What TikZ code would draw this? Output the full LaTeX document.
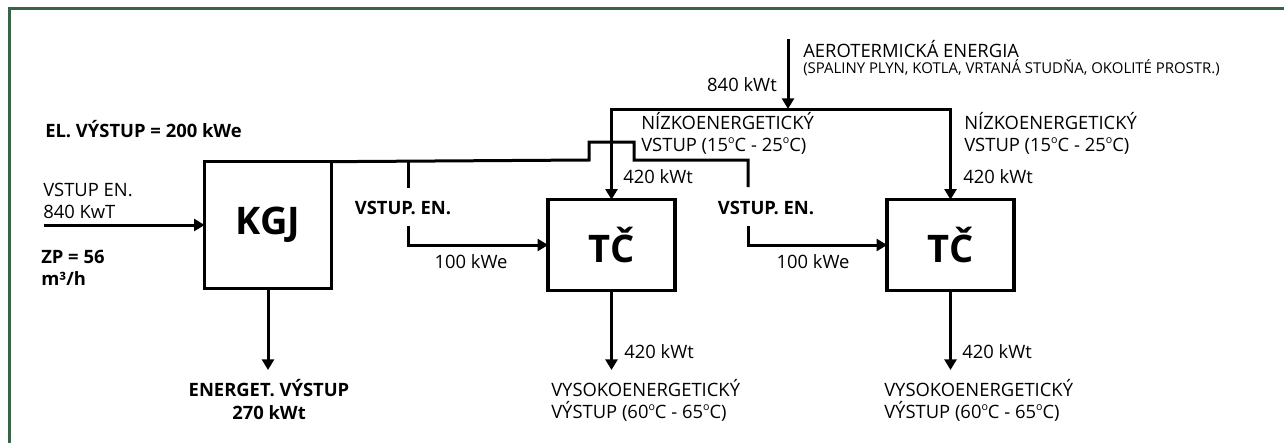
\documentclass[tikz,border=0pt]{standalone}
\usepackage{fontspec}
\setmainfont{Open Sans}
\usetikzlibrary{arrows.meta}
\definecolor{framegreen}{RGB}{58,100,72}
\newcommand{\dg}{\raisebox{0.42em}{\fontsize{8}{8}\selectfont o}}
\begin{document}
\begin{tikzpicture}[x=0.75pt,y=-0.75pt,
  box/.style={draw,line width=2.6pt,minimum width=95pt,inner sep=0pt,outer sep=0pt,font=\bfseries\fontsize{28.5}{30}\selectfont},
  flow/.style={line width=2.25pt,-{Triangle[width=9pt,length=8pt]}},
  wire/.style={line width=2.25pt},
  lbl/.style={inner sep=0pt,font=\fontsize{13.8}{16}\selectfont},
  small/.style={inner sep=0pt,font=\fontsize{11.2}{13}\selectfont},
  blbl/.style={inner sep=0pt,font=\bfseries\fontsize{13.8}{16}\selectfont}]
\useasboundingbox (0,0) rectangle (1284,443);
\draw[framegreen,line width=1.6pt] (9.5,443) -- (9.5,8.5) -- (1284,8.5);

% boxes
\node[box,minimum height=95pt] (kgj) at (268,225) {KGJ};
\node[box,minimum height=68pt] (tc1) at (611.5,245) {TČ};
\node[box,minimum height=68pt] (tc2) at (950.5,245) {TČ};

% KGJ input / output
\coordinate (kin) at (44,225);
\coordinate (kout) at (268,370);
\draw[flow] (kin) -- (kgj.west);
\draw[flow] (kgj.south) -- (kout);

% electrical bus
\coordinate (s1) at (589,160);
\coordinate (s2) at (589,142);
\coordinate (s3) at (634,142);
\coordinate (s4) at (634,160);
\coordinate (s5) at (748,160);
\coordinate (s6) at (748,187);
\coordinate (t1) at (408,160);
\coordinate (t2) at (408,188);
\draw[wire,line join=miter] (kgj.north east) -- (s1) -- (s2) -- (s3) -- (s4) -- (s5) -- (s6);
\draw[wire] (t1) -- (t2);
\coordinate (b1) at (408,226);
\coordinate (b2) at (748,226);
\draw[flow] (b1) -- (b1 |- tc1.west) -- (tc1.west);
\draw[flow] (b2) -- (b2 |- tc2.west) -- (tc2.west);

% aerothermal
\coordinate (aero) at (788,39);
\coordinate (split) at (788,109);
\draw[flow] (aero) -- (split);
\draw[flow] (split) -- (tc1.north |- split) -- (tc1.north);
\draw[flow] (split) -- (tc2.north |- split) -- (tc2.north);

% outputs
\coordinate (o1) at (611.5,370);
\coordinate (o2) at (950.5,370);
\draw[flow] (tc1.south) -- (o1);
\draw[flow] (tc2.south) -- (o2);

% labels
\node[blbl,anchor=base west] (elv) at (45,137) {EL. VÝSTUP = 200 kWe};
\node[lbl,anchor=base west] (vin1) at (43,196) {VSTUP EN.};
\node[lbl,anchor=base west] (vin2) at (43,218) {840 KwT};
\node[blbl,anchor=base west] (zp1) at (41,263) {ZP = 56};
\node[blbl,anchor=base west] (zp2) at (41,285) {m³/h};
\node[blbl,anchor=base] (ev1) at (269,396) {ENERGET. VÝSTUP};
\node[blbl,anchor=base] (ev2) at (269,419) {270 kWt};

\node[blbl,anchor=base] (ve1) at (403,214) {VSTUP. EN.};
\node[blbl,anchor=base] (ve2) at (766,214) {VSTUP. EN.};
\node[lbl,anchor=base] (p1) at (471,268) {100 kWe};
\node[lbl,anchor=base] (p2) at (813,268) {100 kWe};

\node[lbl,anchor=base east] (a840) at (777,91) {840 kWt};
\node[lbl,anchor=base west] (aer1) at (803,57) {AEROTERMICKÁ ENERGIA};
\node[small,anchor=base west] (aer2) at (803,73) {(SPALINY PLYN, KOTLA, VRTANÁ STUDŇA, OKOLITÉ PROSTR.)};

\node[lbl,anchor=base west] (n1a) at (641,129) {NÍZKOENERGETICKÝ};
\node[lbl,anchor=base west] (n1b) at (641,151) {VSTUP (15\dg C - 25\dg C)};
\node[lbl,anchor=base west] (n2a) at (964,129) {NÍZKOENERGETICKÝ};
\node[lbl,anchor=base west] (n2b) at (964,151) {VSTUP (15\dg C - 25\dg C)};
\node[lbl,anchor=base west] (q1) at (623,183) {420 kWt};
\node[lbl,anchor=base west] (q2) at (963,183) {420 kWt};

\node[lbl,anchor=base west] (r1) at (624,358) {420 kWt};
\node[lbl,anchor=base west] (r2) at (962,358) {420 kWt};
\node[lbl,anchor=base west] (h1a) at (551,396) {VYSOKOENERGETICKÝ};
\node[lbl,anchor=base west] (h1b) at (551,418) {VÝSTUP (60\dg C - 65\dg C)};
\node[lbl,anchor=base west] (h2a) at (884,396) {VYSOKOENERGETICKÝ};
\node[lbl,anchor=base west] (h2b) at (884,418) {VÝSTUP (60\dg C - 65\dg C)};
\end{tikzpicture}
\end{document}
